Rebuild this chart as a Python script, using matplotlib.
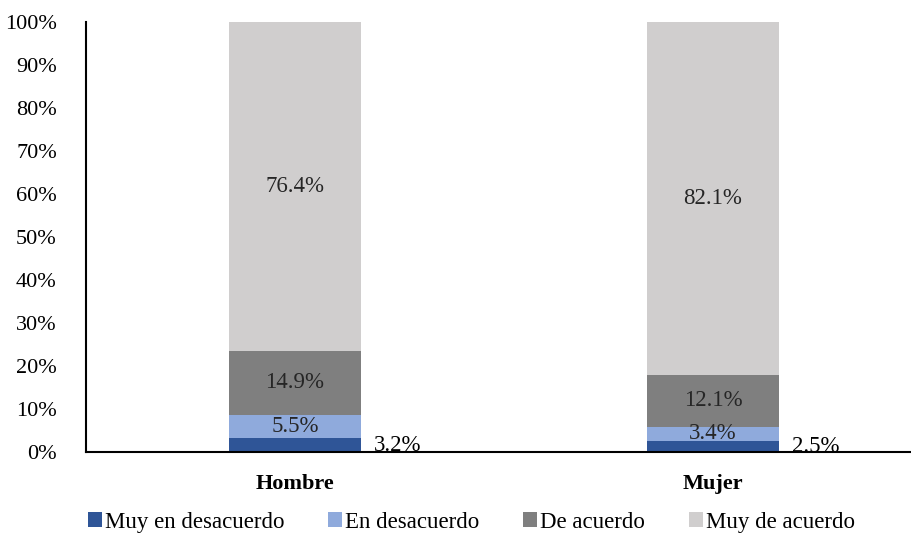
import numpy as np
import matplotlib.pyplot as plt
from matplotlib.ticker import PercentFormatter

plt.rcParams['font.family'] = ['Liberation Serif', 'DejaVu Serif']

categories = ["Hombre", "Mujer"]
series_names = ["Muy en desacuerdo", "En desacuerdo", "De acuerdo", "Muy de acuerdo"]
muy_desacuerdo = [3.2, 2.5]
en_desacuerdo = [5.5, 3.4]
de_acuerdo = [14.9, 12.1]
muy_acuerdo = [76.4, 82.1]
colors = ["#2F5597", "#8FAADC", "#7F7F7F", "#D0CECE"]

fig = plt.figure(figsize=(9.12, 5.34), dpi=100)
ax = fig.add_axes([86 / 912, 82 / 534, 836 / 912, 430 / 534])

x = np.arange(len(categories))
width = 0.316
bottom = np.zeros(len(categories))
all_series = [muy_desacuerdo, en_desacuerdo, de_acuerdo, muy_acuerdo]
for name, vals, col in zip(series_names, all_series, colors):
    vals = np.array(vals)
    ax.bar(x, vals, width, bottom=bottom, color=col, label=name)
    for i, v in enumerate(vals):
        if name == "Muy en desacuerdo":
            ax.text(x[i] + width / 2 + 0.03, bottom[i] + v / 2, f"{v:.1f}%",
                    ha="left", va="center", fontsize=16.5)
        else:
            ax.text(x[i], bottom[i] + v / 2, f"{v:.1f}%",
                    ha="center", va="center", fontsize=16.5, color="#262626")
    bottom += vals

ax.set_xlim(-0.5, 1.5)
ax.set_ylim(0, 100)
ax.set_yticks(np.arange(0, 101, 10))
ax.yaxis.set_major_formatter(PercentFormatter(decimals=0))
ax.set_xticks(x)
ax.set_xticklabels(categories, fontweight="bold", fontsize=16)
ax.tick_params(axis="y", length=0, labelsize=16, pad=21)
ax.tick_params(axis="x", length=0, pad=16)
for s in ["top", "right"]:
    ax.spines[s].set_visible(False)
ax.spines["left"].set_linewidth(1.5)
ax.spines["bottom"].set_linewidth(1.5)

fig.legend(loc="center", bbox_to_anchor=(0.517, 0.022), ncol=4, frameon=False,
           fontsize=16.5, handlelength=0.6, handleheight=0.6, handletextpad=0.15,
           columnspacing=1.9, borderpad=0)

fig.savefig("out.png", dpi=100)
